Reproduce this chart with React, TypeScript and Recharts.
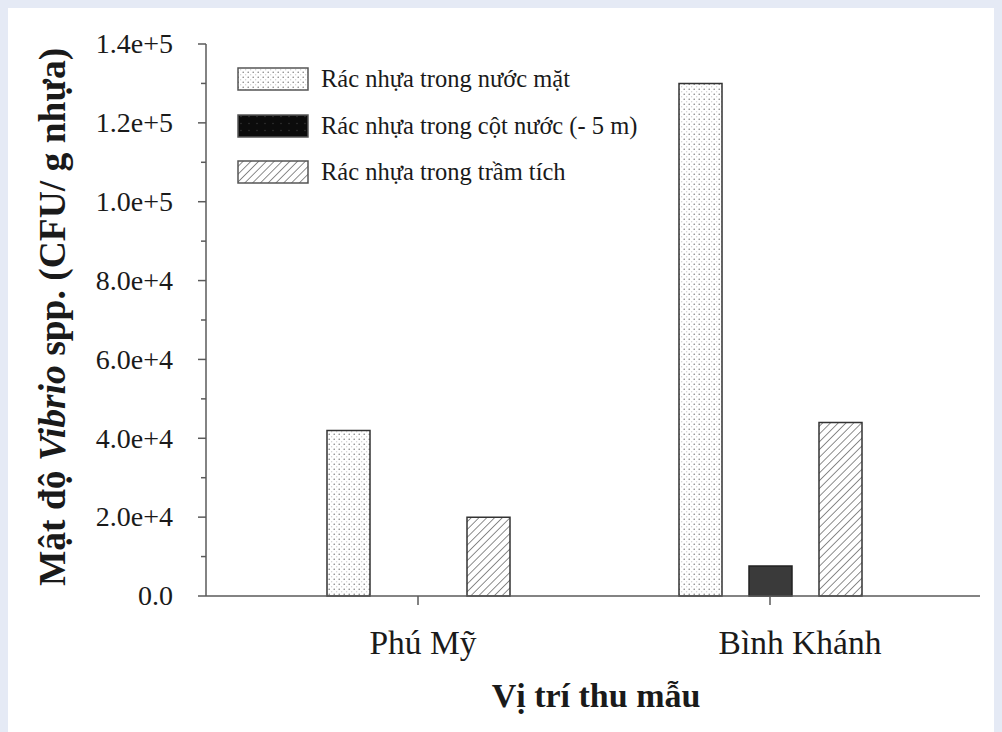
import React from "react";
import { Bar, BarChart, XAxis, YAxis } from "recharts";

// values (CFU / g plastic)
const sites = ["Phú Mỹ", "Bình Khánh"];
const surfaceWater = [42000, 130000];
const waterColumn = [0, 7600];
const sedimentLayer = [20000, 44000];

const seriesNames = [
  "Rác nhựa trong nước mặt",
  "Rác nhựa trong cột nước (- 5 m)",
  "Rác nhựa trong trầm tích",
];

const yTicks = [
  0, 10000, 20000, 30000, 40000, 50000, 60000, 70000, 80000, 90000, 100000, 110000, 120000,
  130000, 140000,
];

const data = sites.map((site, i) => ({
  site,
  surface: surfaceWater[i],
  column: waterColumn[i],
  sediment: sedimentLayer[i],
}));

const FONT = '"Liberation Serif", "Times New Roman", serif';
const AXIS = "#5a5a5a";
const TEXT = "#1a1a1a";
const BAR_STROKE = "#333333";
const Y_TICK_SIZE = 8;
const Y_TICK_MARGIN = 25;
const X_TICK_SIZE = 9;
const X_TICK_MARGIN = 25;
// the original figure sets its category labels a little right of the ticks
const X_LABEL_SHIFT = [5, 30];

if (typeof document !== "undefined") {
  document.body.style.backgroundColor = "#e5eaf5";
}

function formatTick(value: number): string {
  if (value === 0) return "0.0";
  return value.toExponential(1);
}

function YTick(props: any) {
  const { x, y, payload } = props;
  const value = Number(payload.value);
  const axisX = x + Y_TICK_SIZE + Y_TICK_MARGIN;
  const major = value % 20000 === 0;
  return (
    <g>
      <line
        x1={axisX - (major ? 8 : 5)}
        x2={axisX}
        y1={y}
        y2={y}
        stroke={AXIS}
        strokeWidth={1.5}
      />
      {major && (
        <text
          x={x}
          y={y}
          dy="0.33em"
          textAnchor="end"
          fontSize={28}
          fontFamily={FONT}
          fill={TEXT}
        >
          {formatTick(value)}
        </text>
      )}
    </g>
  );
}

function XTick(props: any) {
  const { x, y, payload, index } = props;
  return (
    <text
      x={x + (X_LABEL_SHIFT[index] ?? 0)}
      y={y}
      dy="0.71em"
      textAnchor="middle"
      fontSize={33.5}
      fontFamily={FONT}
      fill={TEXT}
    >
      {payload.value}
    </text>
  );
}

function YTitle(props: any) {
  const vb = props.viewBox;
  const cx = vb.x + 36;
  const cy = vb.y + vb.height / 2 - 3;
  return (
    <text
      x={cx}
      y={cy}
      transform={`rotate(-90 ${cx} ${cy})`}
      textAnchor="middle"
      dominantBaseline="central"
      fontSize={37.5}
      fontWeight="bold"
      fontFamily={FONT}
      fill={TEXT}
    >
      <tspan>Mật độ </tspan>
      <tspan fontStyle="italic">Vibrio</tspan>
      <tspan> spp. (CFU/ g nhựa)</tspan>
    </text>
  );
}

function XTitle(props: any) {
  const vb = props.viewBox;
  return (
    <text
      x={vb.x + vb.width / 2 + 3}
      y={vb.y + 111}
      textAnchor="middle"
      fontSize={34}
      fontWeight="bold"
      fontFamily={FONT}
      fill={TEXT}
    >
      Vị trí thu mẫu
    </text>
  );
}

function Patterns({ prefix }: { prefix: string }) {
  return (
    <defs>
      <pattern id={`${prefix}-dots`} width={5} height={5} patternUnits="userSpaceOnUse">
        <rect width={5} height={5} fill="#ffffff" />
        <circle cx={1.2} cy={1.2} r={0.75} fill="#7a7a7a" />
        <circle cx={3.7} cy={3.7} r={0.55} fill="#b0b0b0" />
      </pattern>
      <pattern
        id={`${prefix}-hatch`}
        width={5.5}
        height={10}
        patternUnits="userSpaceOnUse"
        patternTransform="rotate(45)"
      >
        <rect width={5.5} height={10} fill="#ffffff" />
        <line x1={0} y1={0} x2={0} y2={10} stroke="#505050" strokeWidth={1.3} />
      </pattern>
      <pattern id={`${prefix}-dark`} width={8} height={7} patternUnits="userSpaceOnUse">
        <rect width={8} height={7} fill="#0c0c0c" />
        <circle cx={4} cy={3.5} r={0.7} fill="#3a3a3a" />
      </pattern>
    </defs>
  );
}

function LegendBox() {
  const fills = ["url(#lg-dots)", "url(#lg-dark)", "url(#lg-hatch)"];
  return (
    <div style={{ position: "absolute", left: 229, top: 48, fontFamily: FONT }}>
      {seriesNames.map((name, i) => (
        <div
          key={name}
          style={{ display: "flex", alignItems: "center", height: 46.5, color: TEXT }}
        >
          <svg width={72} height={26} style={{ display: "block" }}>
            <Patterns prefix="lg" />
            <rect
              x={1}
              y={2}
              width={70}
              height={22}
              fill={fills[i]}
              stroke="#555555"
              strokeWidth={1.5}
            />
          </svg>
          <span style={{ marginLeft: 12, fontSize: 24.5, whiteSpace: "nowrap" }}>{name}</span>
        </div>
      ))}
    </div>
  );
}

export default function App() {
  return (
    <div style={{ position: "relative", width: 992, height: 724, background: "#ffffff" }}>
      <BarChart
        width={992}
        height={724}
        data={data}
        margin={{ top: 36, right: 20, left: 8, bottom: 0 }}
        barSize={43}
        barGap={27}
        style={{ fontFamily: FONT }}
      >
        <Patterns prefix="bar" />
        <XAxis
          dataKey="site"
          height={136}
          padding={{ left: 36, right: 34 }}
          axisLine={{ stroke: AXIS, strokeWidth: 1.5 }}
          tickLine={{ stroke: AXIS, strokeWidth: 1.5 }}
          tickSize={X_TICK_SIZE}
          tickMargin={X_TICK_MARGIN}
          tick={<XTick />}
          label={XTitle}
        />
        <XAxis
          xAxisId="top"
          orientation="top"
          dataKey="site"
          height={0}
          tick={false}
          tickLine={false}
          axisLine={{ stroke: AXIS, strokeWidth: 1.5 }}
        />
        <YAxis
          width={190}
          domain={[0, 140000]}
          ticks={yTicks}
          interval={0}
          axisLine={{ stroke: AXIS, strokeWidth: 1.5 }}
          tickLine={false}
          tickSize={Y_TICK_SIZE}
          tickMargin={Y_TICK_MARGIN}
          tick={<YTick />}
          label={YTitle}
        />
        <YAxis
          yAxisId="right"
          orientation="right"
          width={0}
          domain={[0, 140000]}
          tick={false}
          tickLine={false}
          axisLine={{ stroke: AXIS, strokeWidth: 1.5 }}
        />
        <Bar
          dataKey="surface"
          name={seriesNames[0]}
          fill="url(#bar-dots)"
          stroke={BAR_STROKE}
          strokeWidth={1.5}
          isAnimationActive={false}
        />
        <Bar
          dataKey="column"
          name={seriesNames[1]}
          fill="#3a3a3a"
          stroke="#222222"
          strokeWidth={1.5}
          isAnimationActive={false}
        />
        <Bar
          dataKey="sediment"
          name={seriesNames[2]}
          fill="url(#bar-hatch)"
          stroke={BAR_STROKE}
          strokeWidth={1.5}
          isAnimationActive={false}
        />
      </BarChart>
      <LegendBox />
    </div>
  );
}
